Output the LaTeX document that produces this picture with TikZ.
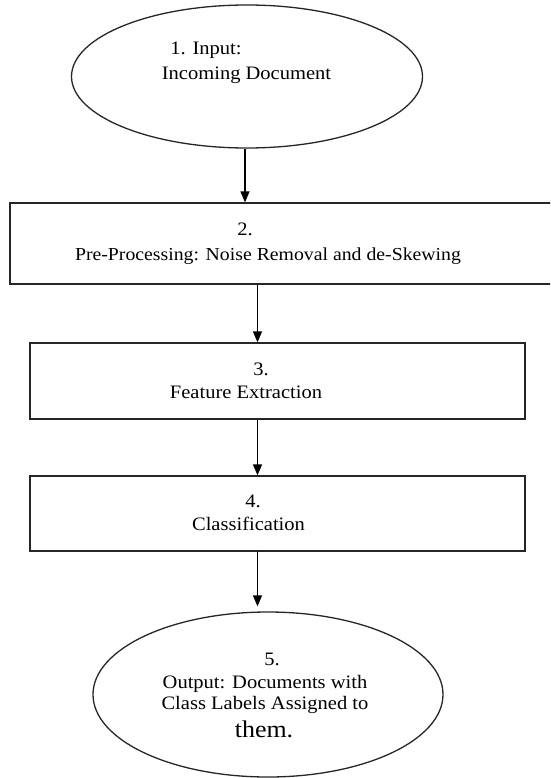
\documentclass[tikz,border=0pt]{standalone}
\usepackage{fontspec}
\setmainfont{Liberation Serif}[FakeStretch=1.08]
\usetikzlibrary{shapes.geometric,arrows.meta}
\begin{document}
\begin{tikzpicture}[x=1pt,y=-1pt,
  shapeline/.style={draw=black!85, line width=1.3pt},
  oval/.style={shapeline, ellipse, inner sep=0pt},
  procbox/.style={shapeline, rectangle, inner sep=0pt},
  lbl/.style={anchor=base, inner sep=0pt, font=\fontsize{19}{22}\selectfont},
  arr/.style={draw=black, line width=1.3pt, -{Triangle[width=9pt,length=11pt]}}]
\useasboundingbox (0,0) rectangle (550,778);
\clip (0,0) rectangle (550,778);
\fill[white] (0,0) rectangle (550,778);

\node[oval, minimum width=351pt, minimum height=143pt] (e1) at (247,76.5) {};
\node[procbox, minimum width=550pt, minimum height=81pt] (b2) at (285,243.5) {};
\node[procbox, minimum width=495pt, minimum height=76pt] (b3) at (277.5,381) {};
\node[procbox, minimum width=495pt, minimum height=75pt] (b4) at (277.5,513.5) {};
\node[oval, minimum width=350pt, minimum height=165pt] (e5) at (268,694.5) {};

\node[lbl] (t1a) at (206,55) {1. Input:};
\node[lbl] (t1b) at (246.5,80) {Incoming Document};
\node[lbl] (t2a) at (245,235) {2.};
\node[lbl, font=\fontsize{18.3}{22}\selectfont] (t2b) at (268,260) {Pre-Processing: Noise Removal and de-Skewing};
\node[lbl] (t3a) at (261,375) {3.};
\node[lbl] (t3b) at (246,398) {Feature Extraction};
\node[lbl] (t4a) at (253,507) {4.};
\node[lbl] (t4b) at (248.5,530) {Classification};
\node[lbl] (t5a) at (272,665) {5.};
\node[lbl] (t5b) at (265,688) {Output: Documents with};
\node[lbl] (t5c) at (265,709) {Class Labels Assigned to};
\node[lbl, font=\fontsize{24}{28}\selectfont] (t5d) at (264,737) {them.};

\coordinate (ax1) at (245,0);
\coordinate (ax2) at (257.5,0);
\draw[arr] (e1.south -| ax1) -- (b2.north -| ax1);
\draw[arr] (b2.south -| ax2) -- (b3.north -| ax2);
\draw[arr] (b3.south -| ax2) -- (b4.north -| ax2);
\draw[arr] (b4.south -| ax2) -- ([yshift=5pt]e5.north -| ax2);
\end{tikzpicture}
\end{document}
